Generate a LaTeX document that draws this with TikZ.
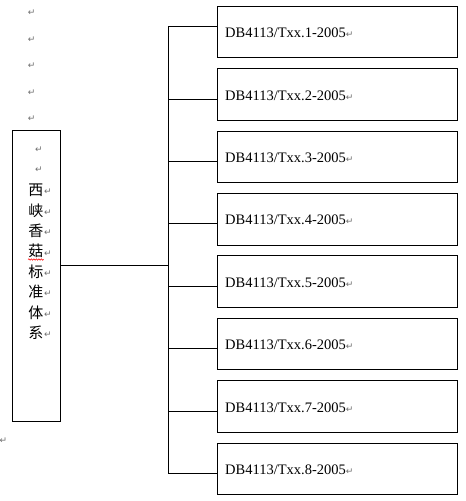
\documentclass[tikz,border=0pt]{standalone}
\usepackage{fontspec}
\setmainfont{Liberation Serif}
\newfontfamily\cjk{Noto Sans CJK SC}
\newfontfamily\marksym{DejaVu Sans}
\usetikzlibrary{decorations.pathmorphing}
\definecolor{markgray}{RGB}{110,110,110}
\newcommand{\pmark}{{\marksym\fontsize{9}{10}\selectfont\textcolor{markgray}{↵}}}
\tikzset{
  line/.style={line width=1pt, draw=black},
  stdbox/.style={line, rectangle, inner sep=0pt, minimum width=240pt, minimum height=51.7pt, anchor=north west},
  mainbox/.style={line, rectangle, inner sep=0pt, minimum width=48pt, minimum height=291pt, anchor=north west},
  stdlabel/.style={anchor=base west, inner sep=0pt, font=\fontsize{14.5}{16}\selectfont},
  cjkchar/.style={anchor=center, inner sep=0pt, font=\cjk\fontsize{15}{17}\selectfont},
  pm/.style={inner sep=0pt, anchor=center}
}
\begin{document}
\begin{tikzpicture}[x=1pt, y=-1pt]
\path[use as bounding box] (0,0) rectangle (466,501);

% paragraph marks outside
\foreach \yy [count=\k] in {12.7,40,66,92.3,119}{
  \node[pm] (om\k) at (31.7,\yy) {\pmark};
}
\node[pm] (obl) at (3.5,440.7) {\pmark};

% main box
\node[mainbox] (main) at (12.3,130) {};
\node[pm] (im1) at (39,149.7) {\pmark};
\node[pm] (im2) at (39,169.3) {\pmark};
\foreach \ch [count=\k] in {西,峡,香,菇,标,准,体,系}{
  \pgfmathsetmacro{\yy}{190+20.4*(\k-1)}
  \node[cjkchar] (ch\k) at (35.8,\yy) {\ch};
  \node[pm] (chm\k) at (48,\yy+2) {\pmark};
}
\draw[red, line width=0.6pt, decorate, decoration={snake, amplitude=0.7pt, segment length=2.5pt}]
  ([yshift=-1.2pt]ch4.south west) -- ([yshift=-1.2pt]ch4.south east);

% boxes on the right
\foreach \k in {1,...,8}{
  \pgfmathsetmacro{\tp}{5.7+62.4*(\k-1)}
  \node[stdbox] (b\k) at (216.7,\tp) {};
  \node[stdlabel] (t\k) at (225,\tp+32) {DB4113/Txx.\k-2005\pmark};
}

% bus
\coordinate (j1) at (168,26);
\foreach \k in {2,...,8}{
  \pgfmathsetmacro{\yy}{5.7+62.4*(\k-1)+31}
  \coordinate (j\k) at (168,\yy);
}
\coordinate (jm) at (168,265);
\draw[line] (j1) -- (j8);
\foreach \k in {1,...,8}{
  \draw[line] (j\k) -- (b\k.west |- j\k);
}
\draw[line] (main.east |- jm) -- (jm);
\end{tikzpicture}
\end{document}
